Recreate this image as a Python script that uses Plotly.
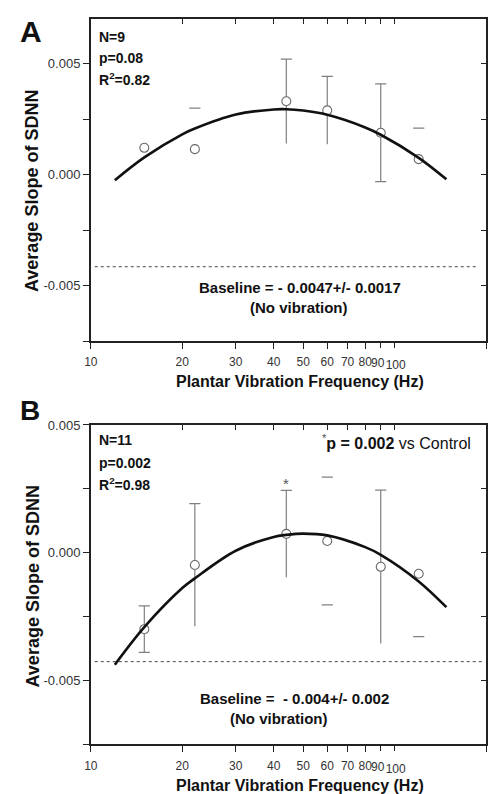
import math
import plotly.graph_objects as go

W, H = 495, 794

# ---------------- data ----------------
freq = [15, 22, 44, 60, 90, 120]

a_mean = [0.00121, 0.00115, 0.00331, 0.00290, 0.00189, 0.00070]
a_err = [0.0, 0.00185, 0.0019, 0.00153, 0.0022, 0.0014]
a_stem = [False, False, True, True, True, False]
a_cap_up = [False, True, True, True, True, True]
a_cap_dn = [False, False, False, False, True, False]

b_mean = [-0.00299, -0.00048, 0.00074, 0.00046, -0.00055, -0.00082]
b_err = [0.00091, 0.0024, 0.0017, 0.0025, 0.0030, 0.00246]
b_stem = [True, True, True, False, True, False]
b_cap_up = [True, True, True, True, True, False]
b_cap_dn = [True, False, False, True, False, True]

curve_f = [12, 15, 20, 22, 30, 40, 44, 50, 60, 80, 90, 120, 148]
a_curve = [-0.00025, 0.00078, 0.00182, 0.00208, 0.00271, 0.00294, 0.00295, 0.00289,
           0.00270, 0.00213, 0.00180, 0.00076, -0.00021]
b_curve = [-0.00438, -0.00291, -0.00138, -0.00100, 0.00008, 0.00062, 0.00070, 0.00075,
           0.00068, 0.00022, -0.00008, -0.00112, -0.00213]

a_baseline_line = -0.00415
b_baseline_line = -0.00426

x_tickvals = [10, 20, 30, 40, 50, 60, 70, 80, 200]
x_ticktext = ["10", "20", "30", "40", "50", "60", "70", "80", "200"]
x_crowded = [(90, "90"), (100, "100")]   # labels nudged apart, as in the figure
x_alltick = [10, 20, 30, 40, 50, 60, 70, 80, 90, 100, 200]
y_tickvals = [-0.005, 0.0, 0.005]
y_ticktext = ["-0.005", "0.000", "0.005"]
y_minorvals = [-0.0075, -0.0025, 0.0025]
y_allticks = [-0.0075, -0.005, -0.0025, 0.0, 0.0025, 0.005]

a_yrange = [-0.0075, 0.007]
b_yrange = [-0.0075, 0.005]

a_stats = ["N=9", "p=0.08", "R<sup>2</sup>=0.82"]
b_stats = ["N=11", "p=0.002", "R<sup>2</sup>=0.98"]
a_base_text = ["Baseline = - 0.0047+/- 0.0017", "(No vibration)"]
b_base_text = ["Baseline =  - 0.004+/- 0.002", "(No vibration)"]

# ---------------- style ----------------
FONT = "Liberation Sans, Arial, sans-serif"
AX = "#222222"
ERR = "#808080"
MK = "#6a6a6a"


def px_x(p):
    return p / W


def px_y(p):
    return 1 - p / H


xdom = [px_x(85), px_x(486)]
a_ydom = [px_y(337), px_y(12.5)]
b_ydom = [px_y(744), px_y(421.7)]

fig = go.Figure()


def add_panel(xa, ya, mean, err, stem, cap_up, cap_dn, curve):
    sx = [f for f, s in zip(freq, stem) if s]
    sy = [m for m, s in zip(mean, stem) if s]
    se = [e for e, s in zip(err, stem) if s]
    fig.add_trace(go.Scatter(
        x=sx, y=sy, mode="markers", marker=dict(size=1, color="rgba(0,0,0,0)"),
        error_y=dict(type="data", array=se, visible=True, width=0,
                     thickness=1.2, color=ERR),
        xaxis=xa, yaxis=ya, showlegend=False, hoverinfo="skip"))
    fig.add_trace(go.Scatter(
        x=freq, y=mean, mode="markers",
        marker=dict(symbol="circle", size=9, color="white",
                    line=dict(color=MK, width=1.1)),
        xaxis=xa, yaxis=ya, showlegend=False))
    fig.add_trace(go.Scatter(
        x=curve_f, y=curve, mode="lines",
        line=dict(color="#111111", width=2.6, shape="spline"),
        xaxis=xa, yaxis=ya, showlegend=False))
    cx, cy = [], []
    for f, m, e, u, d in zip(freq, mean, err, cap_up, cap_dn):
        if u:
            cx.append(f); cy.append(m + e)
        if d:
            cx.append(f); cy.append(m - e)
    fig.add_trace(go.Scatter(
        x=cx, y=cy, mode="markers",
        marker=dict(symbol="line-ew", size=8, line=dict(color=ERR, width=1.2)),
        xaxis=xa, yaxis=ya, showlegend=False, hoverinfo="skip"))


add_panel("x", "y", a_mean, a_err, a_stem, a_cap_up, a_cap_dn, a_curve)
add_panel("x2", "y2", b_mean, b_err, b_stem, b_cap_up, b_cap_dn, b_curve)

# invisible traces so that the overlay axes are drawn
for xa, ya in [("x3", "y3"), ("x4", "y4"), ("x5", "y"), ("x6", "y"), ("x7", "y2"), ("x8", "y2")]:
    fig.add_trace(go.Scatter(x=[100], y=[0], mode="markers", opacity=0,
                             xaxis=xa, yaxis=ya, showlegend=False, hoverinfo="skip"))

xlog_range = [1, math.log10(200)]
xtickfont = dict(family=FONT, size=12, color="#333333")

common_x = dict(type="log", range=xlog_range, tickvals=x_tickvals, ticktext=x_ticktext,
                tickangle=0, ticks="outside", ticklen=6, tickwidth=1.3, tickcolor=AX,
                showline=True, linecolor=AX, linewidth=1.6, mirror=True,
                showgrid=False, zeroline=False, ticklabelstandoff=3,
                tickfont=xtickfont)
common_y = dict(tickvals=y_tickvals, ticktext=y_ticktext,
                ticks="outside", ticklen=6, tickwidth=1.3, tickcolor=AX,
                minor=dict(tickvals=y_minorvals, ticks="outside", ticklen=6,
                           tickwidth=1.3, tickcolor=AX, showgrid=False),
                showline=True, linecolor=AX, linewidth=1.6, mirror=True,
                showgrid=False, zeroline=False,
                tickfont=dict(family=FONT, size=13, color="#333333"))
mirror_x = dict(type="log", range=xlog_range, tickvals=x_alltick, side="top",
                ticks="inside", ticklen=5, tickwidth=1.3, tickcolor=AX,
                showticklabels=False, showline=False, showgrid=False, zeroline=False)
mirror_y = dict(tickvals=y_allticks, side="right",
                ticks="inside", ticklen=5, tickwidth=1.3, tickcolor=AX,
                showticklabels=False, showline=False, showgrid=False, zeroline=False)


def crowded_axis(base, anchor, idx, shift, standoff):
    val, lab = x_crowded[idx]
    return dict(overlaying=base, anchor=anchor, side="bottom", type="log",
                range=xlog_range, tickvals=[val], ticktext=[lab], tickangle=0,
                ticks="outside", ticklen=6, tickwidth=1.3, tickcolor=AX,
                ticklabelshift=shift, ticklabelstandoff=standoff,
                showline=False, showgrid=False, zeroline=False, tickfont=xtickfont)


fig.update_layout(
    width=W, height=H,
    margin=dict(l=0, r=0, t=0, b=0),
    paper_bgcolor="white", plot_bgcolor="white",
    showlegend=False,
    xaxis=dict(domain=xdom, anchor="y", **common_x),
    yaxis=dict(domain=a_ydom, anchor="x", range=a_yrange, **common_y),
    xaxis2=dict(domain=xdom, anchor="y2", **common_x),
    yaxis2=dict(domain=b_ydom, anchor="x2", range=b_yrange, **common_y),
    xaxis3=dict(overlaying="x", anchor="y", **mirror_x),
    yaxis3=dict(overlaying="y", anchor="x", range=a_yrange, **mirror_y),
    xaxis4=dict(overlaying="x2", anchor="y2", **mirror_x),
    yaxis4=dict(overlaying="y2", anchor="x2", range=b_yrange, **mirror_y),
    xaxis5=crowded_axis("x", "y", 0, -3, 5),
    xaxis6=crowded_axis("x", "y", 1, 1, 7),
    xaxis7=crowded_axis("x2", "y2", 0, -3, 5),
    xaxis8=crowded_axis("x2", "y2", 1, 1, 7),
)

# baseline dotted lines
fig.add_shape(type="line", xref="x domain", yref="y", x0=0.01, x1=0.98,
              y0=a_baseline_line, y1=a_baseline_line,
              line=dict(color="#444444", width=1, dash="dot"))
fig.add_shape(type="line", xref="x2 domain", yref="y2", x0=0.01, x1=0.995,
              y0=b_baseline_line, y1=b_baseline_line,
              line=dict(color="#444444", width=1, dash="dot"))

ann = []


def text(x, y, s, size=14, bold=True, xanchor="center", yanchor="middle", color="#111111",
         angle=0):
    ann.append(dict(x=px_x(x), y=px_y(y), xref="paper", yref="paper",
                    text=f"<b>{s}</b>" if bold else s, showarrow=False,
                    xanchor=xanchor, yanchor=yanchor, textangle=angle,
                    font=dict(family=FONT, size=size, color=color)))


# panel letters
text(24, 25, "A", size=30)
text(23, 407, "B", size=28)

# stats
for s, yy in zip(a_stats, [30, 51, 73]):
    text(91, yy, s, xanchor="left")
for s, yy in zip(b_stats, [437, 460, 481]):
    text(91, yy, s, xanchor="left")

# baseline text
text(297, 283, a_base_text[0], size=15)
text(296, 303, a_base_text[1], size=15)
text(292, 698, b_base_text[0], size=15)
text(276, 718, b_base_text[1], size=15)

# significance note
ann.append(dict(x=px_x(473), y=px_y(439), xref="paper", yref="paper",
                text="<span style='color:#555'><sup>*</sup></span><b>p = 0.002</b> vs Control",
                showarrow=False, xanchor="right", yanchor="middle",
                font=dict(family=FONT, size=16, color="#111111")))
ann.append(dict(x=math.log10(44), y=0.0027, xref="x2", yref="y2", text="*",
                showarrow=False, xanchor="center", yanchor="middle",
                font=dict(family=FONT, size=15, color="#555555")))

# axis titles
text(297, 378, "Plantar Vibration Frequency (Hz)", size=16)
text(297, 785, "Plantar Vibration Frequency (Hz)", size=16)
text(26, 186, "Average Slope of SDNN", size=18, angle=-90)
text(26, 585, "Average Slope of SDNN", size=18, angle=-90)

fig.update_layout(annotations=ann)

fig.write_html(
    "out.html",
    config={"displayModeBar": False},
    post_script="document.body.style.margin='0';document.body.style.padding='0';"
                "document.documentElement.style.overflow='hidden';",
)
